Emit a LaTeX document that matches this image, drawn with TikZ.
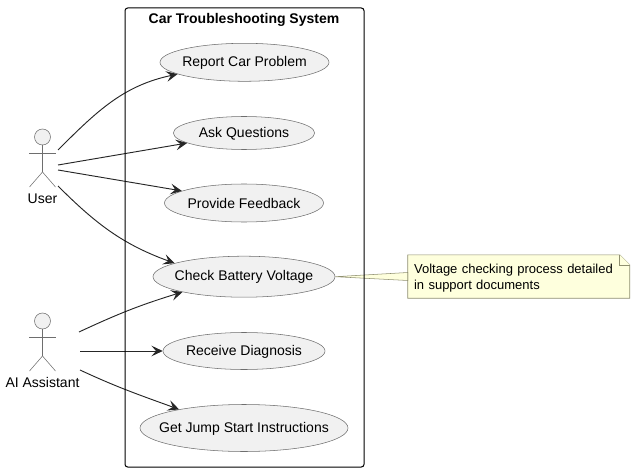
\documentclass[tikz,border=0pt]{standalone}
\usepackage{fontspec}
\setmainfont{Liberation Sans}
\usetikzlibrary{arrows.meta, backgrounds, shapes.geometric}
\definecolor{casefill}{HTML}{F1F1F1}
\definecolor{notefill}{HTML}{FEFFDD}
\definecolor{noteline}{HTML}{8F8F70}
\definecolor{thinline}{HTML}{6E6E6E}
\tikzset{
    usecase/.style={draw=thinline, ellipse, fill=casefill, inner sep=0pt, line width=0.4pt, font=\fontsize{10.5}{12}\selectfont},
    system/.style={draw=black, rounded corners=2pt, line width=0.75pt},
    stick/.style={draw=thinline, line width=0.4pt},
    label/.style={inner sep=0pt, font=\fontsize{10.5}{12}\selectfont},
    note/.style={inner sep=0pt, minimum width=166.1pt, minimum height=32.2pt, text width=157pt, align=left, font=\fontsize{9.75}{12}\selectfont},
    notepart/.style={draw=noteline, fill=notefill, line width=0.4pt},
    arrow/.style={draw=black!85, line width=0.7pt, -{Stealth[length=8.5pt,width=8pt,inset=3.5pt]}}
}
% the text of a use case must not widen its ellipse
\newcommand{\casetext}[1]{\makebox[0pt]{\rule[-0.5pt]{0pt}{9pt}#1}}
% one stick figure, #1 = its name, (#2,#3) = centre of the head
\newcommand{\actor}[4]{
    \draw [stick, fill=casefill] (#2,#3) circle (6pt);
    \draw [stick] (#2,#3-8) -- (#2,#3-35) -- (#2-13,#3-50);
    \draw [stick] (#2,#3-35) -- (#2+13,#3-50);
    \draw [stick] (#2-13.5,#3-16) -- (#2+13.5,#3-16);
    \node [label] (#1) at (#2,#3-61.5) {#4};
}
\begin{document}
\begin{tikzpicture}[x=0.75pt, y=0.75pt]
\useasboundingbox (0,0) rectangle (635,472);

\node [inner sep=0pt, font=\bfseries\fontsize{10.5}{12}\selectfont] (title) at (244,452) {Car Troubleshooting System};

\node [usecase, minimum width=126.75pt, minimum height=28.5pt]  (report)    at (244.5,409.7) {\casetext{Report Car Problem}};
\node [usecase, minimum width=106pt,    minimum height=24.75pt] (ask)       at (244,339)     {\casetext{Ask Questions}};
\node [usecase, minimum width=119.25pt, minimum height=28.5pt]  (feedback)  at (244,269)     {\casetext{Provide Feedback}};
\node [usecase, minimum width=136.5pt,  minimum height=30.75pt] (battery)   at (244,195.3)   {\casetext{Check Battery Voltage}};
\node [usecase, minimum width=121.5pt,  minimum height=27.75pt] (diagnosis) at (244,121)     {\casetext{Receive Diagnosis}};
\node [usecase, minimum width=156pt,    minimum height=35.25pt] (jump)      at (244,44)      {\casetext{Get Jump Start Instructions}};

\actor{user}{42.5}{335}{User}
\actor{assistant}{42.5}{151}{AI Assistant}

\coordinate (user a) at (58,322);
\coordinate (user b) at (58,307);
\coordinate (user c) at (58,302);
\coordinate (user d) at (58,286);
\coordinate (assistant a) at (79,140);
\coordinate (assistant b) at (80,121);
\coordinate (assistant c) at (80,102);

\draw [arrow] (user a) to [out=45, in=192] (report.190);
\draw [arrow] (user b) to (ask.190);
\draw [arrow] (user c) to (feedback.169);
\draw [arrow] (user d) to [out=-45, in=160] (battery.169);
\draw [arrow] (assistant a) to [out=25, in=197] (battery.194);
\draw [arrow] (assistant b) to (diagnosis.180);
\draw [arrow] (assistant c) to [out=-25, in=160] (jump.164);

\node [note] (remark) at (518.75,195.5) {\rule{0pt}{10pt}Voltage checking process detailed\\in support documents};
\begin{scope}[on background layer]
\draw [notepart] (remark.south west) -- (remark.north west) -- ([xshift=-7.5pt]remark.north east) -- ([yshift=-7.5pt]remark.north east) -- (remark.south east) -- cycle;
\draw [notepart] ([xshift=-7.5pt]remark.north east) |- ([yshift=-7.5pt]remark.north east);
\draw [notepart] (battery.east) -- ([yshift=3pt]remark.west) -- ([yshift=-3pt]remark.west) -- cycle;
\end{scope}

\draw [system] (125,5) rectangle (364,464);

\end{tikzpicture}
\end{document}
